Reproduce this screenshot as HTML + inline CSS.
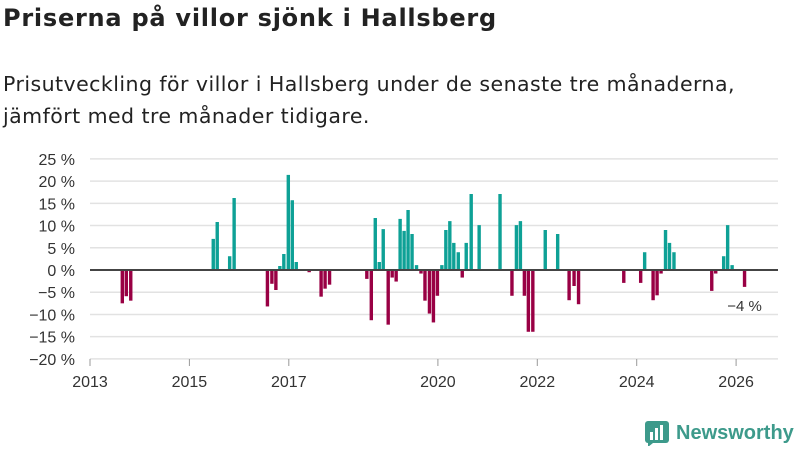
<!DOCTYPE html>
<html><head><meta charset="utf-8"><style>
body{margin:0;background:#fff;font-family:"Liberation Sans","DejaVu Sans",sans-serif;}
#wrap{position:relative;width:800px;height:450px;overflow:hidden;}
h1{position:absolute;left:3px;top:4px;margin:0;font-family:"DejaVu Sans",sans-serif;font-size:24px;font-weight:bold;color:#222;letter-spacing:0.75px;}
p{position:absolute;left:3px;top:68px;margin:0;font-family:"DejaVu Sans",sans-serif;font-size:20.5px;line-height:32px;color:#222;letter-spacing:0.45px;}
</style></head><body>
<div id="wrap">
<h1>Priserna på villor sjönk i Hallsberg</h1>
<p>Prisutveckling för villor i Hallsberg under de senaste tre månaderna,<br>jämfört med tre månader tidigare.</p>
<svg id="chart" width="800" height="450" style="position:absolute;left:0;top:0"></svg>
<div style="position:absolute;left:644px;top:420px;display:flex;align-items:center;">
<svg width="26" height="26"><rect x="1" y="1" width="24" height="22" rx="3" fill="#3d9a8b"/><rect x="6" y="12" width="3" height="8" fill="#fff"/><rect x="11" y="8" width="3" height="12" fill="#fff"/><rect x="16" y="5" width="3" height="15" fill="#fff"/><path d="M4 23 L4 27 L9 23Z" fill="#3d9a8b"/></svg>
<span style="margin-left:6px;font-size:20px;font-weight:bold;color:#3d9a8b">Newsworthy</span></div>
</div>
<script>
const dates=[2013.65,2013.73,2013.82,2015.48,2015.56,2015.81,2015.90,2016.57,2016.66,2016.74,2016.82,2016.90,2016.99,2017.07,2017.15,2017.41,2017.65,2017.73,2017.82,2018.57,2018.66,2018.74,2018.82,2018.90,2019.00,2019.08,2019.16,2019.24,2019.32,2019.40,2019.48,2019.57,2019.66,2019.74,2019.83,2019.91,2019.99,2020.08,2020.16,2020.24,2020.32,2020.41,2020.49,2020.57,2020.67,2020.83,2021.25,2021.49,2021.58,2021.66,2021.74,2021.82,2021.91,2022.16,2022.41,2022.64,2022.74,2022.83,2023.74,2024.08,2024.16,2024.33,2024.41,2024.49,2024.58,2024.66,2024.75,2025.51,2025.59,2025.75,2025.83,2025.92,2026.17];
const values=[-7.5,-5.9,-6.9,7,10.8,3.1,16.2,-8.2,-3.1,-4.5,0.9,3.6,21.4,15.7,1.8,-0.5,-6,-4.2,-3.3,-2,-11.3,11.7,1.8,9.2,-12.3,-1.7,-2.6,11.5,8.8,13.5,8.1,1.1,-0.8,-6.9,-9.8,-11.8,-5.8,1.1,9,11,6.1,4,-1.7,6.1,17.1,10.1,17.1,-5.8,10.1,11,-5.8,-13.9,-13.9,9,8.1,-6.8,-3.6,-7.7,-2.9,-2.9,4,-6.8,-5.7,-0.8,9,6.1,4,-4.7,-0.8,3.1,10.1,1.1,-3.8];
const yTicks=[25,20,15,10,5,0,-5,-10,-15,-20];
const xTicks=[2013,2015,2017,2020,2022,2024,2026];
const lastLabel="−4 %";
const svg=document.getElementById('chart');const NS='http://www.w3.org/2000/svg';
const x=v=>90+(v-2013)*49.7;
const y=v=>270-v*4.444;
function mk(t,a){const e=document.createElementNS(NS,t);for(const k in a)e.setAttribute(k,a[k]);svg.appendChild(e);return e;}
yTicks.forEach(t=>{
const g=mk('line',{x1:90,x2:778,y1:y(t),y2:y(t),stroke:'#e2e2e2','stroke-width':1.5});


const l=mk('text',{x:75,y:y(t)+6,'text-anchor':'end','font-size':16,fill:'#333'});l.textContent=(t<0?'−'+(-t):t)+' %';


});
const ax=mk('line',{x1:90,x2:90,y1:y(-20),y2:360,stroke:'#ccc'});


xTicks.forEach(t=>{
const tk=mk('line',{x1:x(t),x2:x(t),y1:359,y2:366,stroke:'#999'});


const l=mk('text',{x:x(t),y:387,'text-anchor':'middle','font-size':16,fill:'#333'});l.textContent=t;


});
dates.forEach((d,i)=>{const v=values[i];
const r=mk('rect',{x:x(d)-1.7,y:Math.min(y(v),y(0)),width:3.4,height:Math.abs(y(v)-y(0)),fill:v>=0?'#0ea196':'#990044'});


});
const z=mk('line',{x1:90,x2:778,y1:y(0),y2:y(0),stroke:'#444','stroke-width':2});


const ll=mk('text',{x:x(dates[dates.length-1]),y:311,'text-anchor':'middle','font-size':15,fill:'#333'});ll.textContent=lastLabel;


</script>
</body></html>
